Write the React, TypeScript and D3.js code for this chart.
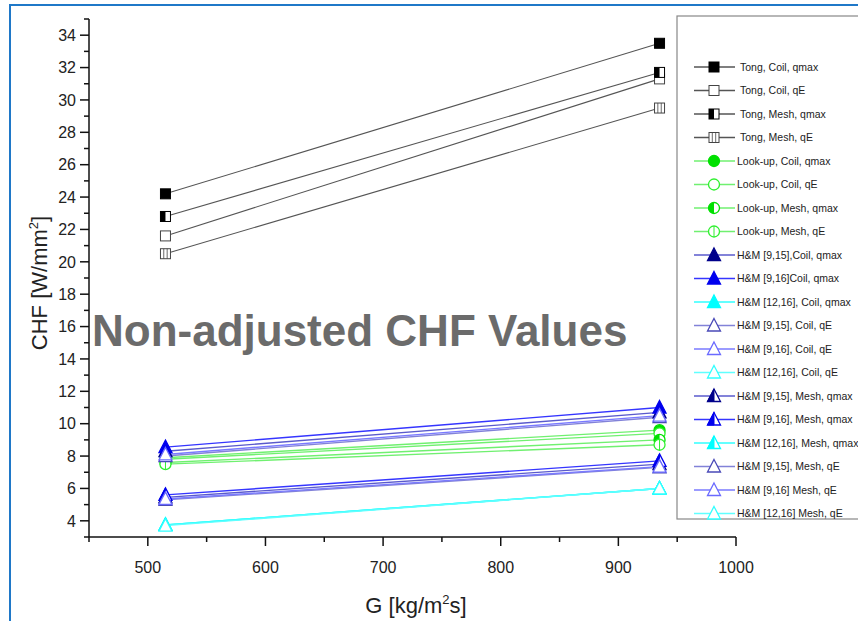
import React from "react";
import * as d3 from "d3";

// ---------- data ----------
const G = [515, 935];
const xTicks = [500, 600, 700, 800, 900, 1000];
const yTicks = [4, 6, 8, 10, 12, 14, 16, 18, 20, 22, 24, 26, 28, 30, 32, 34];

const seriesNames = [
  "Tong, Coil, qmax",
  "Tong, Coil, qE",
  "Tong, Mesh, qmax",
  "Tong, Mesh, qE",
  "Look-up, Coil, qmax",
  "Look-up, Coil, qE",
  "Look-up, Mesh, qmax",
  "Look-up, Mesh, qE",
  "H&M [9,15],Coil, qmax",
  "H&M [9,16]Coil, qmax",
  "H&M [12,16], Coil, qmax",
  "H&M [9,15], Coil, qE",
  "H&M [9,16], Coil, qE",
  "H&M [12,16], Coil, qE",
  "H&M [9,15], Mesh, qmax",
  "H&M [9,16], Mesh, qmax",
  "H&M [12,16], Mesh, qmax",
  "H&M [9,15], Mesh, qE",
  "H&M [9,16] Mesh, qE",
  "H&M [12,16] Mesh, qE",
];

const tongCoilQmax = [24.2, 33.5];
const tongCoilQE = [21.6, 31.3];
const tongMeshQmax = [22.8, 31.7];
const tongMeshQE = [20.5, 29.5];
const lookupCoilQmax = [7.9, 9.6];
const lookupCoilQE = [7.8, 9.4];
const lookupMeshQmax = [7.6, 9.0];
const lookupMeshQE = [7.5, 8.7];
const hm915CoilQmax = [8.3, 10.7];
const hm916CoilQmax = [8.55, 11.0];
const hm1216CoilQmax = [3.75, 6.0];
const hm915CoilQE = [8.0, 10.4];
const hm916CoilQE = [8.1, 10.5];
const hm1216CoilQE = [3.75, 6.0];
const hm915MeshQmax = [5.45, 7.5];
const hm916MeshQmax = [5.6, 7.7];
const hm1216MeshQmax = [3.75, 6.0];
const hm915MeshQE = [5.3, 7.3];
const hm916MeshQE = [5.35, 7.35];
const hm1216MeshQE = [3.7, 6.0];

const seriesValues = [
  tongCoilQmax, tongCoilQE, tongMeshQmax, tongMeshQE,
  lookupCoilQmax, lookupCoilQE, lookupMeshQmax, lookupMeshQE,
  hm915CoilQmax, hm916CoilQmax, hm1216CoilQmax,
  hm915CoilQE, hm916CoilQE, hm1216CoilQE,
  hm915MeshQmax, hm916MeshQmax, hm1216MeshQmax,
  hm915MeshQE, hm916MeshQE, hm1216MeshQE,
];

// ---------- styles ----------
type Shape = "square" | "circle" | "triangle";
type Fill = "full" | "open" | "half" | "lines";
interface Style { shape: Shape; fill: Fill; marker: string; line: string; }
const styles: Style[] = [
  { shape: "square", fill: "full", marker: "#000", line: "#555" },
  { shape: "square", fill: "open", marker: "#444", line: "#555" },
  { shape: "square", fill: "half", marker: "#000", line: "#555" },
  { shape: "square", fill: "lines", marker: "#444", line: "#555" },
  { shape: "circle", fill: "full", marker: "#00e000", line: "#70f070" },
  { shape: "circle", fill: "open", marker: "#30f030", line: "#70f070" },
  { shape: "circle", fill: "half", marker: "#00e000", line: "#70f070" },
  { shape: "circle", fill: "lines", marker: "#30f030", line: "#70f070" },
  { shape: "triangle", fill: "full", marker: "#00008b", line: "#5a5acc" },
  { shape: "triangle", fill: "full", marker: "#0000ee", line: "#3535ff" },
  { shape: "triangle", fill: "full", marker: "#00ffff", line: "#30ffff" },
  { shape: "triangle", fill: "open", marker: "#4a4ab8", line: "#8282d8" },
  { shape: "triangle", fill: "open", marker: "#6a6aff", line: "#7a7aff" },
  { shape: "triangle", fill: "open", marker: "#30ffff", line: "#60ffff" },
  { shape: "triangle", fill: "half", marker: "#00008b", line: "#5a5acc" },
  { shape: "triangle", fill: "half", marker: "#0000ee", line: "#3535ff" },
  { shape: "triangle", fill: "half", marker: "#00ffff", line: "#30ffff" },
  { shape: "triangle", fill: "open", marker: "#4a4ab8", line: "#8282d8" },
  { shape: "triangle", fill: "open", marker: "#6a6aff", line: "#7a7aff" },
  { shape: "triangle", fill: "open", marker: "#30ffff", line: "#60ffff" },
];

const FONT = "'Liberation Sans', Arial, sans-serif";

function Marker({ cx, cy, s }: { cx: number; cy: number; s: Style }) {
  const c = s.marker;
  if (s.shape === "square") {
    const h = 5;
    return (
      <g>
        <rect x={cx - h} y={cy - h} width={2 * h} height={2 * h}
          fill={s.fill === "full" ? c : "#fff"} stroke={c} strokeWidth={1} />
        {s.fill === "half" && <rect x={cx - h} y={cy - h} width={h} height={2 * h} fill={c} />}
        {s.fill === "lines" && (
          <g stroke={c} strokeWidth={0.8}>
            <line x1={cx - 1.7} x2={cx - 1.7} y1={cy - h} y2={cy + h} />
            <line x1={cx + 1.7} x2={cx + 1.7} y1={cy - h} y2={cy + h} />
          </g>
        )}
      </g>
    );
  }
  if (s.shape === "circle") {
    const r = 5.5;
    return (
      <g>
        <circle cx={cx} cy={cy} r={r} fill={s.fill === "full" ? c : "#fff"} stroke={c} strokeWidth={1.3} />
        {s.fill === "half" && (
          <path d={`M${cx},${cy - r} A${r},${r} 0 0 0 ${cx},${cy + r} Z`} fill={c} />
        )}
        {s.fill === "lines" && (
          <line x1={cx} x2={cx} y1={cy - r} y2={cy + r} stroke={c} strokeWidth={1} />
        )}
      </g>
    );
  }
  const w = 6.5, top = cy - 7, bot = cy + 5.5;
  const tri = `M${cx},${top} L${cx + w},${bot} L${cx - w},${bot} Z`;
  return (
    <g>
      <path d={tri} fill={s.fill === "full" ? c : "#fff"} stroke={c} strokeWidth={1.3} strokeLinejoin="miter" />
      {s.fill === "half" && <path d={`M${cx},${top} L${cx},${bot} L${cx - w},${bot} Z`} fill={c} stroke={c} strokeWidth={1} />}
    </g>
  );
}

export default function App() {
  const W = 858, H = 621;
  const x = d3.scaleLinear().domain([450, 1000]).range([89, 736]);
  const y = d3.scaleLinear().domain([3, 35]).range([537, 19]);
  const minorX = d3.range(450, 1001, 50).filter((v) => v % 100 !== 0);
  const minorY = d3.range(3, 36, 2);
  const line = d3.line<number>().x((_, i) => x(G[i])).y((v) => y(v));

  const legX = 677, legY = 16, legStep = 23.5, legFirst = 67;

  return (
    <svg width={W} height={H} style={{ position: "absolute", left: 0, top: 0, background: "#fff" }}
      fontFamily={FONT}>
      <rect x={0} y={0} width={W} height={H} fill="#fff" />
      {/* outer blue frame */}
      <rect x={10} y={5} width={W + 20} height={H + 20} fill="none" stroke="#1f78c8" strokeWidth={2} />

      {/* y axis */}
      <line x1={x(450)} x2={x(450)} y1={y(35)} y2={y(3)} stroke="#111" strokeWidth={1.5} />
      {yTicks.map((t) => (
        <g key={"yt" + t}>
          <line x1={x(450) - 9} x2={x(450)} y1={y(t)} y2={y(t)} stroke="#111" strokeWidth={1.5} />
          <text x={x(450) - 13} y={y(t)} dy="0.36em" textAnchor="end" fontSize={16} fill="#222">{t}</text>
        </g>
      ))}
      {minorY.map((t) => (
        <line key={"ym" + t} x1={x(450) - 5} x2={x(450)} y1={y(t)} y2={y(t)} stroke="#111" strokeWidth={1.5} />
      ))}

      {/* x axis */}
      <line x1={x(450)} x2={x(1000)} y1={y(3)} y2={y(3)} stroke="#111" strokeWidth={1.5} />
      {xTicks.map((t) => (
        <g key={"xt" + t}>
          <line x1={x(t)} x2={x(t)} y1={y(3)} y2={y(3) + 9} stroke="#111" strokeWidth={1.5} />
          <text x={x(t)} y={y(3) + 36} textAnchor="middle" fontSize={16} fill="#222">{t}</text>
        </g>
      ))}
      {minorX.map((t) => (
        <line key={"xm" + t} x1={x(t)} x2={x(t)} y1={y(3)} y2={y(3) + 5} stroke="#111" strokeWidth={1.5} />
      ))}

      {/* axis titles */}
      <text x={416} y={613} textAnchor="middle" fontSize={22} fill="#222">
        G [kg/m<tspan dy={-9} fontSize={13}>2</tspan><tspan dy={9}>s]</tspan>
      </text>
      <text transform={`translate(47,283) rotate(-90)`} textAnchor="middle" fontSize={22} fill="#222">
        CHF [W/mm<tspan dy={-9} fontSize={13}>2</tspan><tspan dy={9}>]</tspan>
      </text>

      {/* annotation */}
      <text x={92} y={346} fontSize={44} fontWeight="bold" fill="#6b6b6b">Non-adjusted CHF Values</text>

      {/* series */}
      {seriesValues.map((vals, i) => (
        <path key={"l" + i} d={line(vals) || ""} fill="none" stroke={styles[i].line}
          strokeWidth={i < 4 ? 1.1 : 1.4} />
      ))}
      {seriesValues.map((vals, i) => (
        <g key={"m" + i}>
          {vals.map((v, j) => (
            <Marker key={j} cx={x(G[j])} cy={y(v)} s={styles[i]} />
          ))}
        </g>
      ))}

      {/* legend */}
      <rect x={legX} y={legY} width={W} height={503} fill="#fff" stroke="#888" strokeWidth={1.2} />
      {seriesNames.map((name, i) => {
        const ly = legFirst + i * legStep;
        return (
          <g key={"lg" + i}>
            <line x1={694} x2={735} y1={ly} y2={ly} stroke={styles[i].line} strokeWidth={1.3} />
            <Marker cx={714} cy={ly} s={styles[i]} />
            <text x={i < 4 ? 740 : 737} y={ly} dy="0.36em" fontSize={10.5} fill="#222">{name}</text>
          </g>
        );
      })}
    </svg>
  );
}
